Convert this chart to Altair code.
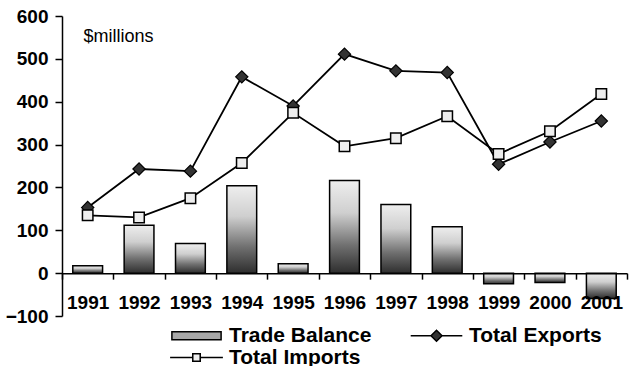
import altair as alt
import pandas as pd

# ---- data ----
years = ["1991", "1992", "1993", "1994", "1995", "1996", "1997", "1998", "1999", "2000", "2001"]
trade_balance = [17, 112, 69, 204, 22, 216, 160, 108, -25, -22, -59]
total_exports = [153, 243, 238, 458, 390, 511, 472, 468, 254, 306, 355]
total_imports = [135, 130, 175, 257, 374, 296, 315, 366, 278, 331, 418]
# legend order (column-major in a 2-column legend)
series_names = ["Trade Balance", "Total Imports", "Total Exports"]
series_fills = ["#a8a8a8", "#eeeeee", "#333333"]
y_ticks = [-100, 0, 100, 200, 300, 400, 500, 600]

FONT = "Liberation Sans"

bal_df = pd.DataFrame({"year": years, "value": trade_balance})
exp_df = pd.DataFrame({"year": years, "series": "Total Exports", "value": total_exports})
imp_df = pd.DataFrame({"year": years, "series": "Total Imports", "value": total_imports})
long_df = pd.concat([exp_df, imp_df], ignore_index=True)

x_scale = alt.Scale(domain=years, paddingInner=0, paddingOuter=0)
y_scale = alt.Scale(domain=[-100, 600], nice=False, zero=False)

x_enc = alt.X(
    "year:N",
    scale=x_scale,
    axis=alt.Axis(
        title=None, labelAngle=0, offset=-42.857, tickBand="extent",
        tickSize=6, labelPadding=14, zindex=1,
        labelFont=FONT, labelFontSize=19, labelFontWeight="bold", labelColor="black",
        domainColor="black", domainWidth=1.5, tickColor="black", tickWidth=1.5,
        labelOverlap=False, labelBound=False,
    ),
)
y_enc = alt.Y(
    "value:Q",
    scale=y_scale,
    axis=alt.Axis(
        values=y_ticks, title="$millions", titleAngle=0, titleAlign="left",
        titleBaseline="middle", titleX=21, titleY=20, titleFont=FONT,
        titleFontSize=18, titleFontWeight="normal", titleColor="black",
        grid=False, tickSize=7, labelPadding=7,
        labelFont=FONT, labelFontSize=19, labelFontWeight="bold", labelColor="black",
        domainColor="black", domainWidth=1.5, tickColor="black", tickWidth=1.5,
    ),
)

bar_grad = alt.Gradient(
    gradient="linear",
    stops=[
        alt.GradientStop(color="#eeeeee", offset=0),
        alt.GradientStop(color="#cfcfcf", offset=0.35),
        alt.GradientStop(color="#707070", offset=0.7),
        alt.GradientStop(color="#2e2e2e", offset=1),
    ],
    x1=0, x2=0, y1=0, y2=1,
)

bars = alt.Chart(bal_df).mark_bar(
    fill=bar_grad, stroke="black", strokeWidth=1.5, width=alt.RelativeBandSize(0.58)
).encode(x=x_enc, y=y_enc)

lines = alt.Chart(long_df).mark_line(color="black", strokeWidth=1.8).encode(
    x=x_enc, y=y_enc, detail="series:N"
)

exp_pts = alt.Chart(exp_df).mark_point(
    shape="diamond", filled=True, fill="#333333", stroke="black",
    strokeWidth=1.2, size=150, opacity=1
).encode(x=x_enc, y=y_enc)

imp_pts = alt.Chart(imp_df).mark_point(
    shape="square", filled=True, fill="#eeeeee", stroke="black",
    strokeWidth=1.5, size=110, opacity=1
).encode(x=x_enc, y=y_enc)

# legend symbols (custom paths, unit = 6 px with symbol size 144)
bar_path = "M-4.1,-0.67H4.1V0.67H-4.1Z"
exp_path = "M-4.3,0H-0.92M0.92,0H4.3M-0.92,0L0,-0.92L0.92,0L0,0.92Z"
imp_path = "M-4.4,0H-0.62M0.62,0H4.4M-0.62,-0.62H0.62V0.62H-0.62Z"

legend_spec = alt.Legend(
    title=None, orient="none", legendX=124, legendY=309, columns=2,
    symbolSize=144, symbolStrokeWidth=1.5, symbolStrokeColor="black",
    symbolOpacity=1, labelOffset=22, columnPadding=35, rowPadding=0,
    labelFont=FONT, labelFontSize=21, labelFontWeight="bold", labelColor="black",
)

legend_layer = alt.Chart(long_df).transform_filter("false").mark_point(
    size=144, opacity=1, filled=True, strokeWidth=1.5
).encode(
    x=x_enc,
    y=y_enc,
    shape=alt.Shape(
        "series:N",
        scale=alt.Scale(domain=series_names, range=[bar_path, imp_path, exp_path]),
        legend=legend_spec,
    ),
    fill=alt.Fill(
        "series:N",
        scale=alt.Scale(domain=series_names, range=series_fills),
        legend=legend_spec,
    ),
    stroke=alt.Stroke(
        "series:N",
        scale=alt.Scale(domain=series_names, range=["black", "black", "black"]),
        legend=legend_spec,
    ),
)

chart = alt.layer(bars, lines, exp_pts, imp_pts, legend_layer).properties(
    width=565,
    height=300,
    padding={"left": 62, "top": 16, "right": 5, "bottom": 50},
    autosize=alt.AutoSizeParams(type="none"),
    background="white",
).configure_view(stroke=None)

chart.save("out.html", embed_options={"renderer": "svg", "actions": False})
